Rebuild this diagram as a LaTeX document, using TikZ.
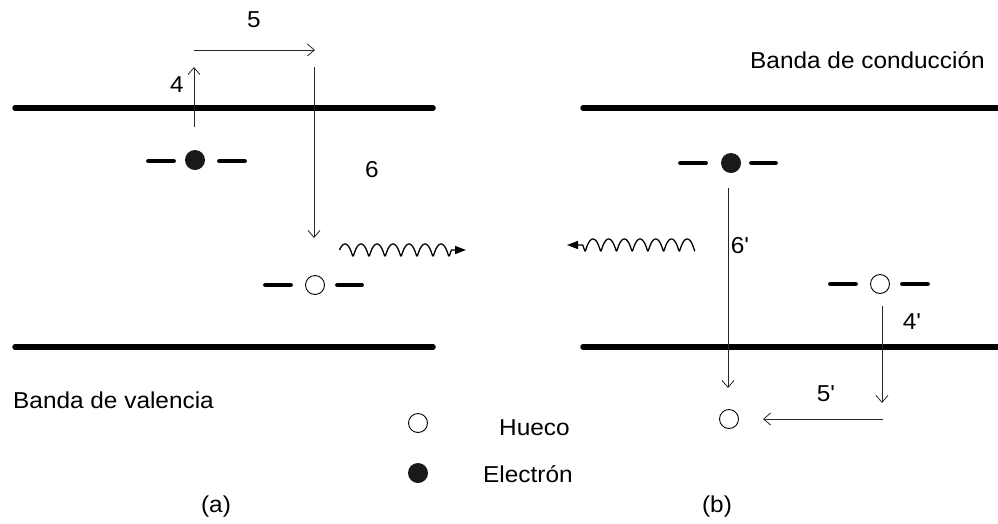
\documentclass[tikz,border=0pt]{standalone}
\usepackage{fontspec}
\setmainfont{Liberation Sans}
\usepackage{graphicx}
\usetikzlibrary{arrows.meta}
% slightly widened lettering
\newcommand{\wtext}[1]{\scalebox{1.06}[1]{#1}}

\begin{document}
\begin{tikzpicture}[x=1pt,y=-1pt,
  band/.style={line width=5.5pt, line cap=round},
  lev/.style={line width=4.8pt, line cap=round},
  hole/.style={circle, draw, line width=0.9pt, minimum size=19pt, inner sep=0pt},
  elec/.style={circle, fill=black!90, minimum size=20pt, inner sep=0pt},
  trans/.style={line width=0.8pt, draw=black!85, -{Straight Barb[length=7pt,width=12pt,line width=0.8pt]}},
  lbl/.style={font=\fontsize{23}{27}\selectfont, inner sep=0pt},
  photon/.style={line width=1.3pt, -{Triangle[length=11pt,width=8pt]}}
]
\useasboundingbox[fill=white] (0,0) rectangle (998,523);

% energy bands
\draw[band] (15,108) -- (433,108);
\draw[band] (15,347) -- (433,347);
\draw[band] (583,108) -- (1000,108);
\draw[band] (583,347) -- (1000,347);

% (a) impurity levels
\draw[lev] (148.5,161) -- (173.5,161);
\draw[lev] (219.5,161) -- (244.5,161);
\node[elec] (ea) at (195,160) {};
\draw[lev] (265.5,285) -- (290.5,285);
\draw[lev] (337.5,285) -- (361.5,285);
\node[hole] (ha) at (315,285) {};

% (b) impurity levels
\draw[lev] (680.5,163) -- (705.5,163);
\draw[lev] (751.5,163) -- (775.5,163);
\node[elec] (eb) at (731,163) {};
\draw[lev] (830.5,284) -- (855.5,284);
\draw[lev] (902.5,284) -- (927.5,284);
\node[hole] (hb) at (880,284) {};

% transitions (a)
\coordinate (a4s) at (194,127);
\coordinate (a4e) at (194,67);
\coordinate (a5s) at (194,50);
\coordinate (a5e) at (315,50);
\coordinate (a6s) at (314,67);
\coordinate (a6e) at (314,238);
\draw[trans] (a4s) -- (a4e);
\draw[trans] (a5s) -- (a5e);
\draw[trans] (a6s) -- (a6e);

% transitions (b)
\node[hole] (hv) at (729,419) {};
\coordinate (b6s) at (728,188);
\coordinate (b6e) at (728,388);
\coordinate (b4s) at (882,306);
\coordinate (b4e) at (882,403);
\coordinate (b5s) at (883,419);
\coordinate (b5e) at (763,419);
\draw[trans] (b6s) -- (b6e);
\draw[trans] (b4s) -- (b4e);
\draw[trans] (b5s) -- (b5e);

% emitted photons: trochoid waves with wide crests and narrow troughs
\coordinate (pa) at (466,250);
\coordinate (pb) at (567,245);
\draw[photon] plot[domain=-90:2430, samples=280]
  ({345+\x/22.5+1.5*sin(\x)},{250-6*cos(\x)}) -- (pa);
\draw[photon] plot[domain=180:2790, samples=280]
  ({702.85-\x/22.93-1.5*sin(\x)},{245-6*cos(\x)}) -- (pb);

% step labels
\node[lbl] (l4) at (177,85) {\wtext{4}};
\node[lbl] (l5) at (254,20) {\wtext{5}};
\node[lbl] (l6) at (372,170) {\wtext{6}};
\node[lbl] (l6p) at (740,246) {\wtext{6\textquotesingle}};
\node[lbl] (l4p) at (912,322) {\wtext{4\textquotesingle}};
\node[lbl] (l5p) at (826,394) {\wtext{5\textquotesingle}};

% band names
\node[lbl, anchor=base west] (bv) at (13,408) {\wtext{Banda de valencia}};
\node[lbl, anchor=base west] (bc) at (750,68) {\wtext{Banda de conducción}};

% legend
\node[hole] (lh) at (418,423) {};
\node[elec] (le) at (418,473) {};
\node[lbl, anchor=base west] (th) at (499,435) {\wtext{Hueco}};
\node[lbl, anchor=base west] (te) at (483,482) {\wtext{Electrón}};

% panel captions
\node[lbl, anchor=base] (ca) at (216,512) {\wtext{(a)}};
\node[lbl, anchor=base] (cb) at (717,512) {\wtext{(b)}};
\end{tikzpicture}
\end{document}
